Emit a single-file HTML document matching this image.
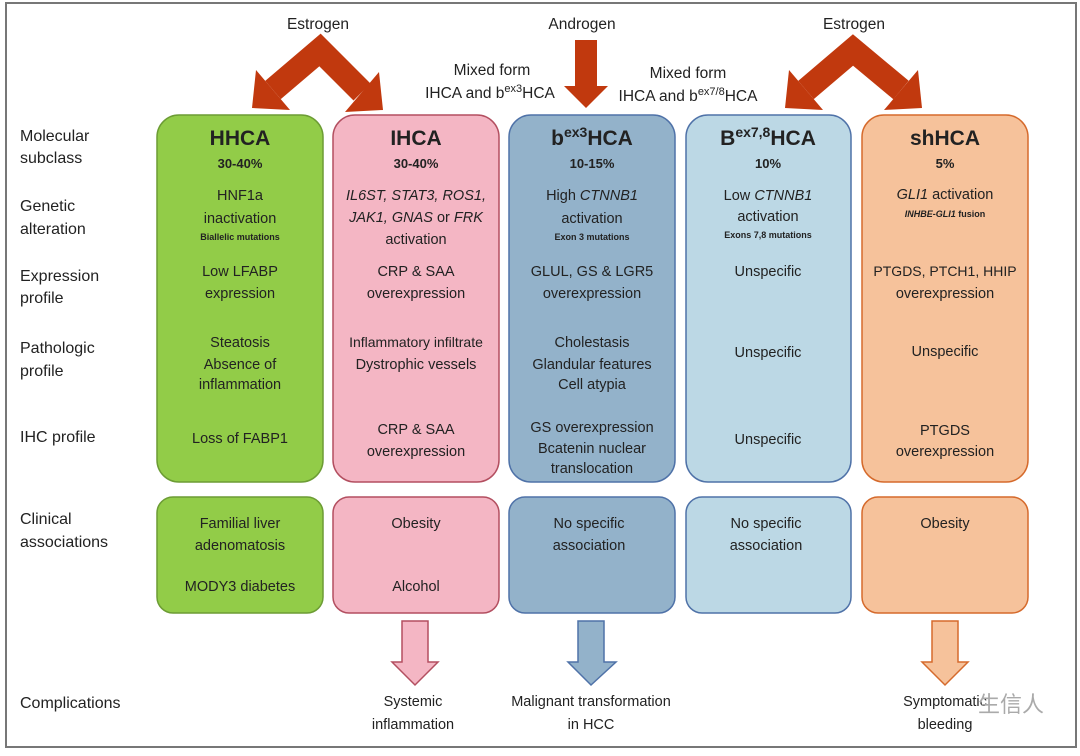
<!DOCTYPE html>
<html><head><meta charset="utf-8"><style>
html,body{margin:0;padding:0;background:#fff;}
svg text{font-family:"Liberation Sans","Noto Sans CJK SC",sans-serif;fill:#222;}
</style></head><body>
<svg width="1080" height="751" viewBox="0 0 1080 751" xmlns="http://www.w3.org/2000/svg">
<rect x="0" y="0" width="1080" height="751" fill="#fff"/>
<rect x="6" y="3" width="1070" height="744" fill="none" stroke="#777" stroke-width="2"/>

<!-- big arrows -->
<g fill="#c1390e">
  <polyline points="273,90 320,50 362,92" fill="none" stroke="#c1390e" stroke-width="24" stroke-linejoin="miter"/>
  <polygon points="252,108 290,110 256,70"/>
  <polygon points="383,110 345,112 379,72"/>
  <polyline points="806,90 853,50 901,90" fill="none" stroke="#c1390e" stroke-width="24" stroke-linejoin="miter"/>
  <polygon points="785,108 823,110 789,70"/>
  <polygon points="922,108 884,110 918,70"/>
  <polygon points="575,40 597,40 597,86 608,86 586,108 564,86 575,86"/>
</g>

<g font-size="15.5" text-anchor="middle">
<text x="318" y="29">Estrogen</text>
<text x="582" y="29">Androgen</text>
<text x="854" y="29">Estrogen</text>
<text x="492" y="75">Mixed form</text>
<text x="490" y="98">IHCA and b<tspan font-size="11" dy="-6">ex3</tspan><tspan dy="6">HCA</tspan></text>
<text x="688" y="78">Mixed form</text>
<text x="688" y="101">IHCA and b<tspan font-size="11" dy="-6">ex7/8</tspan><tspan dy="6">HCA</tspan></text>
</g>

<!-- left labels -->
<g font-size="16">
<text x="20" y="141">Molecular</text><text x="20" y="163">subclass</text>
<text x="20" y="211">Genetic</text><text x="20" y="234">alteration</text>
<text x="20" y="281">Expression</text><text x="20" y="303">profile</text>
<text x="20" y="353">Pathologic</text><text x="20" y="376">profile</text>
<text x="20" y="442">IHC profile</text>
<text x="20" y="524">Clinical</text><text x="20" y="547">associations</text>
<text x="20" y="708">Complications</text>
</g>

<!-- columns -->
<g stroke-width="1.5">
<rect x="157" y="115" width="166" height="367" rx="22" fill="#92cc48" stroke="#6c9c34"/>
<rect x="333" y="115" width="166" height="367" rx="22" fill="#f4b6c4" stroke="#b34f60"/>
<rect x="509" y="115" width="166" height="367" rx="22" fill="#93b2ca" stroke="#4f72a8"/>
<rect x="686" y="115" width="165" height="367" rx="22" fill="#bcd8e5" stroke="#4f72a8"/>
<rect x="862" y="115" width="166" height="367" rx="22" fill="#f6c29b" stroke="#d56a2c"/>
<rect x="157" y="497" width="166" height="116" rx="16" fill="#92cc48" stroke="#6c9c34"/>
<rect x="333" y="497" width="166" height="116" rx="16" fill="#f4b6c4" stroke="#b34f60"/>
<rect x="509" y="497" width="166" height="116" rx="16" fill="#93b2ca" stroke="#4f72a8"/>
<rect x="686" y="497" width="165" height="116" rx="16" fill="#bcd8e5" stroke="#4f72a8"/>
<rect x="862" y="497" width="166" height="116" rx="16" fill="#f6c29b" stroke="#d56a2c"/>
</g>

<!-- bottom arrows -->
<g stroke-width="1.5">
<polygon points="402,621 428,621 428,662 438,662 415,685 392,662 402,662" fill="#f4b6c4" stroke="#b34f60"/>
<polygon points="578,621 604,621 604,662 616,662 591,685 568,662 578,662" fill="#93b2ca" stroke="#4f72a8"/>
<polygon points="932,621 958,621 958,662 968,662 945,685 922,662 932,662" fill="#f6c29b" stroke="#d56a2c"/>
</g>

<g text-anchor="middle" font-size="14.5">
<!-- HHCA -->
<text x="240" y="145" font-size="21" font-weight="bold" fill="#111">HHCA</text>
<text x="240" y="168" font-size="13" font-weight="bold">30-40%</text>
<text x="240" y="200">HNF1a</text>
<text x="240" y="223">inactivation</text>
<text x="240" y="240" font-size="9" font-weight="bold">Biallelic mutations</text>
<text x="240" y="276">Low LFABP</text>
<text x="240" y="298">expression</text>
<text x="240" y="347">Steatosis</text>
<text x="240" y="369">Absence of</text>
<text x="240" y="389">inflammation</text>
<text x="240" y="443">Loss of FABP1</text>
<text x="240" y="528">Familial liver</text>
<text x="240" y="550">adenomatosis</text>
<text x="240" y="591">MODY3 diabetes</text>
<!-- IHCA -->
<text x="416" y="145" font-size="21" font-weight="bold" fill="#111">IHCA</text>
<text x="416" y="168" font-size="13" font-weight="bold">30-40%</text>
<text x="416" y="200" font-style="italic">IL6ST, STAT3, ROS1,</text>
<text x="416" y="222"><tspan font-style="italic">JAK1, GNAS</tspan> or <tspan font-style="italic">FRK</tspan></text>
<text x="416" y="244">activation</text>
<text x="416" y="276">CRP &amp; SAA</text>
<text x="416" y="298">overexpression</text>
<text x="416" y="347" font-size="14">Inflammatory infiltrate</text>
<text x="416" y="369">Dystrophic vessels</text>
<text x="416" y="434">CRP &amp; SAA</text>
<text x="416" y="456">overexpression</text>
<text x="416" y="528">Obesity</text>
<text x="416" y="591">Alcohol</text>
<!-- bex3 -->
<text x="592" y="145" font-size="21" font-weight="bold" fill="#111">b<tspan font-size="14" dy="-8">ex3</tspan><tspan dy="8">HCA</tspan></text>
<text x="592" y="168" font-size="13" font-weight="bold">10-15%</text>
<text x="592" y="200">High <tspan font-style="italic">CTNNB1</tspan></text>
<text x="592" y="223">activation</text>
<text x="592" y="240" font-size="9" font-weight="bold">Exon 3 mutations</text>
<text x="592" y="276">GLUL, GS &amp; LGR5</text>
<text x="592" y="298">overexpression</text>
<text x="592" y="347">Cholestasis</text>
<text x="592" y="369">Glandular features</text>
<text x="592" y="389">Cell atypia</text>
<text x="592" y="432">GS overexpression</text>
<text x="592" y="453">Bcatenin nuclear</text>
<text x="592" y="473">translocation</text>
<text x="589" y="528">No specific</text>
<text x="589" y="550">association</text>
<!-- bex78 -->
<text x="768" y="145" font-size="21" font-weight="bold" fill="#111">B<tspan font-size="14" dy="-8">ex7,8</tspan><tspan dy="8">HCA</tspan></text>
<text x="768" y="168" font-size="13" font-weight="bold">10%</text>
<text x="768" y="200">Low <tspan font-style="italic">CTNNB1</tspan></text>
<text x="768" y="221">activation</text>
<text x="768" y="238" font-size="9" font-weight="bold">Exons 7,8 mutations</text>
<text x="768" y="276">Unspecific</text>
<text x="768" y="357">Unspecific</text>
<text x="768" y="444">Unspecific</text>
<text x="766" y="528">No specific</text>
<text x="766" y="550">association</text>
<!-- shHCA -->
<text x="945" y="145" font-size="21" font-weight="bold" fill="#111">shHCA</text>
<text x="945" y="168" font-size="13" font-weight="bold">5%</text>
<text x="945" y="199"><tspan font-style="italic">GLI1</tspan> activation</text>
<text x="945" y="217" font-size="9" font-weight="bold" font-style="italic">INHBE-GLI1 <tspan font-style="normal">fusion</tspan></text>
<text x="945" y="276" font-size="14">PTGDS, PTCH1, HHIP</text>
<text x="945" y="298">overexpression</text>
<text x="945" y="356">Unspecific</text>
<text x="945" y="435">PTGDS</text>
<text x="945" y="456">overexpression</text>
<text x="945" y="528">Obesity</text>
<!-- complications -->
<text x="413" y="706">Systemic</text>
<text x="413" y="729">inflammation</text>
<text x="591" y="706">Malignant transformation</text>
<text x="591" y="729">in HCC</text>
<text x="945" y="706">Symptomatic</text>
<text x="945" y="729">bleeding</text>
</g>
<text x="978" y="712" font-size="22" style="fill:#aaa">生信人</text>
</svg>
</body></html>
